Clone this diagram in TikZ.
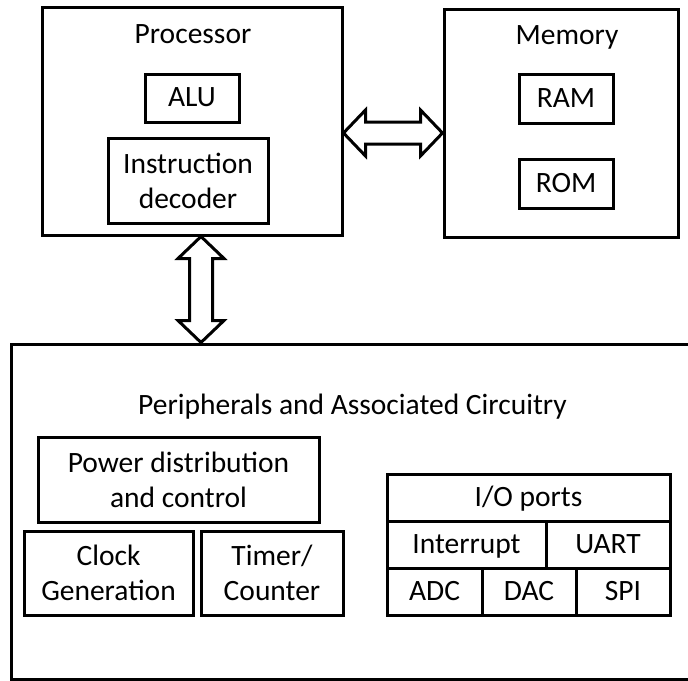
\documentclass[tikz,border=0pt]{standalone}
\usepackage{fontspec}
\setmainfont{Carlito}
\usetikzlibrary{calc}
\tikzset{
  blk/.style={draw, line width=3pt, inner sep=0pt, align=center,
    font=\fontsize{29.5}{35}\selectfont},
  one/.style={text height=19pt, text depth=2pt},
  ttl/.style={inner sep=0pt, anchor=base, font=\fontsize{29.5}{35}\selectfont},
  bus/.style={draw, line width=3pt, line join=miter, fill=white}
}
\begin{document}
\begin{tikzpicture}[x=1pt,y=-1pt]
\useasboundingbox (0,0) rectangle (688,680);
\clip (0,0) rectangle (688,680);
% Processor
\node[blk, minimum width=300, minimum height=228] (proc) at (192,121) {};
\node[ttl] (proct) at (193,43) {Processor};
\node[blk, one, minimum width=94, minimum height=48] (alu) at (192,98) {ALU};
\node[blk, minimum width=160, minimum height=85] (dec) at (188,180.5) {Instruction\\decoder};
% Memory
\node[blk, minimum width=234, minimum height=228] (mem) at (561,123) {};
\node[ttl] (memt) at (567,44) {Memory};
\node[blk, one, minimum width=94, minimum height=49] (ram) at (566,98.5) {RAM};
\node[blk, one, minimum width=94, minimum height=49] (rom) at (566,183.5) {ROM};
% Peripherals
\node[blk, minimum width=689, minimum height=335] (per) at (355.5,511.5) {};
\node[ttl] (pert) at (352.5,414) {Peripherals and Associated Circuitry};
\node[blk, minimum width=281, minimum height=85] (pwr) at (178.5,479.5) {Power distribution\\and control};
\node[blk, minimum width=169, minimum height=84] (clk) at (108.5,573) {Clock\\Generation};
\node[blk, minimum width=142, minimum height=84] (tmr) at (272,573) {Timer/\\Counter};
\node[blk, one, minimum width=283, minimum height=47] (io) at (528.5,497.5) {I/O ports};
\node[blk, one, minimum width=159, minimum height=47] (irq) at (466.5,544.5) {Interrupt};
\node[blk, one, minimum width=124, minimum height=47] (uart) at (608,544.5) {UART};
\node[blk, one, minimum width=95, minimum height=47] (adc) at (434.5,591.5) {ADC};
\node[blk, one, minimum width=94, minimum height=47] (dac) at (529,591.5) {DAC};
\node[blk, one, minimum width=94, minimum height=47] (spi) at (623,591.5) {SPI};
% Buses
\coordinate (hl) at (proc.east |- 0,133);
\coordinate (hr) at (mem.west |- 0,133);
\coordinate (vt) at (proc.south -| 201,0);
\coordinate (vb) at (per.north -| 201,0);
\path[bus] (hl) -- ++(22,-23) -- ++(0,12) -- ($(hr)+(-22,-11)$) -- ++(0,-12) -- (hr)
  -- ++(-22,23) -- ++(0,-12) -- ($(hl)+(22,11)$) -- ++(0,12) -- cycle;
\path[bus] (vt) -- ++(23,22) -- ++(-11.5,0) -- ($(vb)+(11.5,-22)$) -- ++(11.5,0) -- (vb)
  -- ++(-23,-22) -- ++(11.5,0) -- ($(vt)+(-11.5,22)$) -- ++(-11.5,0) -- cycle;
\end{tikzpicture}
\end{document}
